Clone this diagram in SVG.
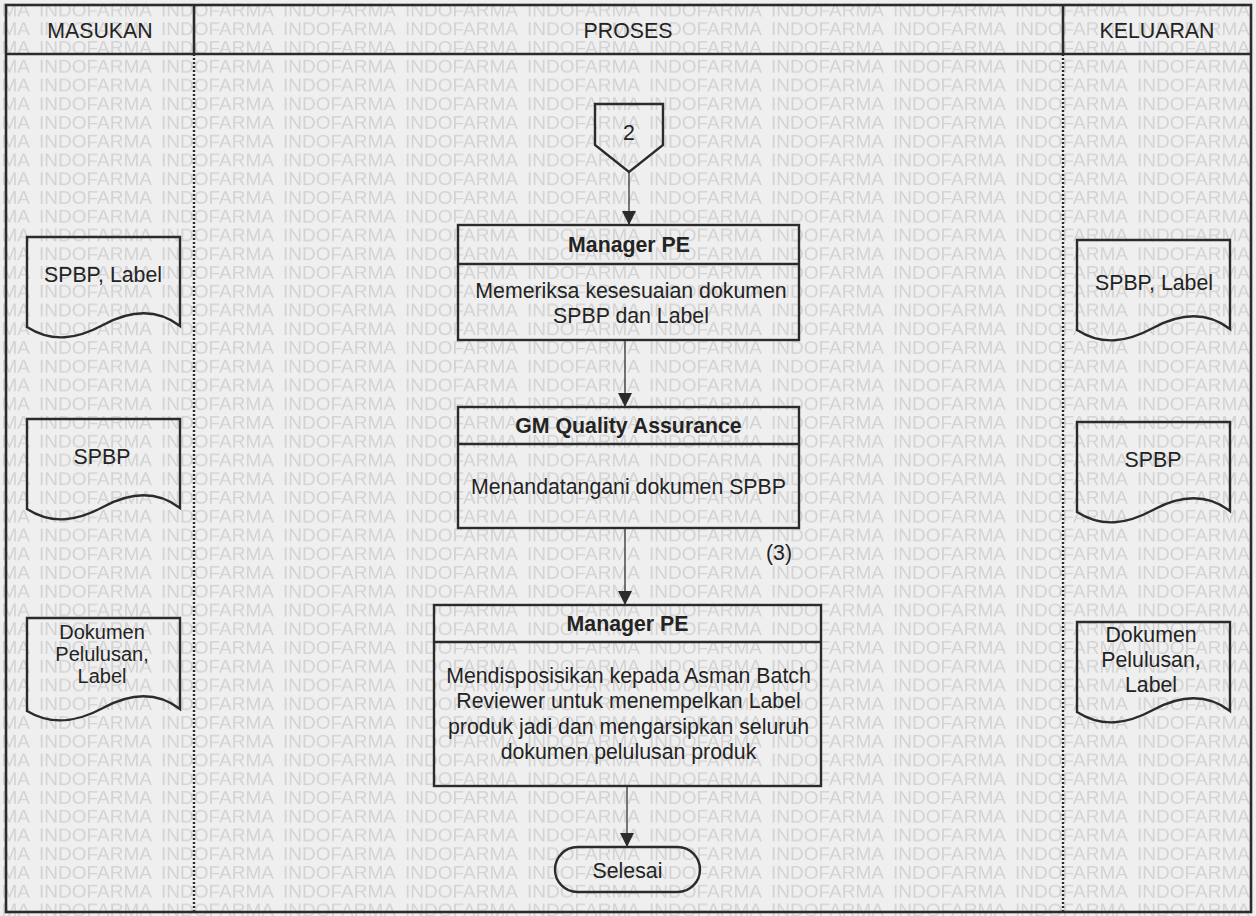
<svg xmlns="http://www.w3.org/2000/svg" width="1256" height="916" viewBox="0 0 1256 916">
<defs>
<style>
.t{font-family:"Liberation Sans",Arial,Helvetica,sans-serif;font-size:21.3px;fill:#232323;text-anchor:middle}
.s{font-size:20px}
.b{font-weight:bold}
.wm{font-family:"Liberation Sans",Arial,Helvetica,sans-serif;font-size:19px;fill:#d3d3d3}
.box{fill:none;stroke:#2b2b2b;stroke-width:2.4}
.frame{fill:none;stroke:#2b2b2b;stroke-width:2.6}
.dot{fill:none;stroke:#2b2b2b;stroke-width:2.4;stroke-dasharray:2 2}
.con{fill:none;stroke:#333;stroke-width:1.3}
</style>
<pattern id="wmp" patternUnits="userSpaceOnUse" x="39" y="0.6" width="122" height="18.75">
<text class="wm" x="0" y="16">INDOFARMA</text>
</pattern>
<path id="doc" d="M0,0 H153 V89 C128,70 102,74 76,88 C50,102 25,106 0,90 Z"/>
<path id="doc3" d="M0,0 H153 V91 C128,72 102,76 76,90 C50,104 25,108 0,93 Z"/>
<marker id="ah" markerUnits="userSpaceOnUse" markerWidth="14" markerHeight="16" refX="14" refY="7" orient="auto">
<path d="M0,0 L14,7 L0,14 Z" fill="#2b2b2b"/>
</marker>
</defs>
<rect x="0" y="0" width="1256" height="916" fill="#efefef"/>
<rect x="0" y="0" width="1256" height="916" fill="url(#wmp)"/>

<g id="frame">
<rect class="frame" x="6" y="5" width="1245" height="907"/>
<line class="frame" x1="6" y1="54" x2="1251" y2="54"/>
<line class="frame" x1="194" y1="5" x2="194" y2="54"/>
<line class="frame" x1="1063" y1="5" x2="1063" y2="54"/>
<line class="dot" x1="194" y1="54" x2="194" y2="912"/>
<line class="dot" x1="1063" y1="54" x2="1063" y2="912"/>
<text class="t" x="100" y="37.5">MASUKAN</text>
<text class="t" x="628" y="37.5">PROSES</text>
<text class="t" x="1157" y="37.5">KELUARAN</text>
</g>

<g id="in-doc1">
<use href="#doc" x="27" y="237" class="box"/>
<text class="t" x="103" y="282">SPBP, Label</text>
</g>
<g id="in-doc2">
<use href="#doc" x="27" y="419" class="box"/>
<text class="t" x="102" y="464">SPBP</text>
</g>
<g id="in-doc3">
<use href="#doc3" x="27" y="618" class="box"/>
<text class="t s" x="102" y="639">Dokumen</text>
<text class="t s" x="102" y="661">Pelulusan,</text>
<text class="t s" x="102" y="683">Label</text>
</g>

<g id="out-doc1">
<use href="#doc" x="1077" y="240" class="box"/>
<text class="t" x="1154" y="290">SPBP, Label</text>
</g>
<g id="out-doc2">
<use href="#doc" x="1077" y="422" class="box"/>
<text class="t" x="1153" y="467">SPBP</text>
</g>
<g id="out-doc3">
<use href="#doc" x="1077" y="622" class="box"/>
<text class="t" x="1151" y="642">Dokumen</text>
<text class="t" x="1151" y="667">Pelulusan,</text>
<text class="t" x="1151" y="692">Label</text>
</g>

<g id="offpage-2">
<path class="box" d="M595,104 H663 V145 L629,172 L595,145 Z"/>
<text class="t" x="629" y="139.5">2</text>
</g>

<g id="step1">
<rect class="box" x="458" y="225" width="341" height="115"/>
<line class="box" x1="458" y1="264" x2="799" y2="264"/>
<text class="t b" x="629" y="252">Manager PE</text>
<text class="t" x="631" y="297.5">Memeriksa kesesuaian dokumen</text>
<text class="t" x="631" y="322.5">SPBP dan Label</text>
</g>

<g id="step2">
<rect class="box" x="458" y="407" width="341" height="121"/>
<line class="box" x1="458" y1="444" x2="799" y2="444"/>
<text class="t b" x="628.5" y="432.5">GM Quality Assurance</text>
<text class="t" x="628.5" y="493.5">Menandatangani dokumen SPBP</text>
</g>

<g id="step3">
<rect class="box" x="434" y="605" width="387" height="181"/>
<line class="box" x1="434" y1="642" x2="821" y2="642"/>
<text class="t b" x="627.5" y="630.5">Manager PE</text>
<text class="t" x="628.5" y="682.5">Mendisposisikan kepada Asman Batch</text>
<text class="t" x="628.5" y="708">Reviewer untuk menempelkan Label</text>
<text class="t" x="628.5" y="733.5">produk jadi dan mengarsipkan seluruh</text>
<text class="t" x="628.5" y="759">dokumen pelulusan produk</text>
</g>

<g id="end">
<rect class="box" x="555" y="847" width="145" height="45" rx="22.5" ry="22.5"/>
<text class="t" x="627.5" y="877.5">Selesai</text>
</g>

<g id="connectors">
<line class="con" x1="629" y1="172" x2="629" y2="225" marker-end="url(#ah)"/>
<line class="con" x1="625" y1="340" x2="625" y2="407" marker-end="url(#ah)"/>
<line class="con" x1="625" y1="528" x2="625" y2="605" marker-end="url(#ah)"/>
<line class="con" x1="627" y1="786" x2="627" y2="847" marker-end="url(#ah)"/>
<text class="t" x="779" y="560">(3)</text>
</g>
</svg>
